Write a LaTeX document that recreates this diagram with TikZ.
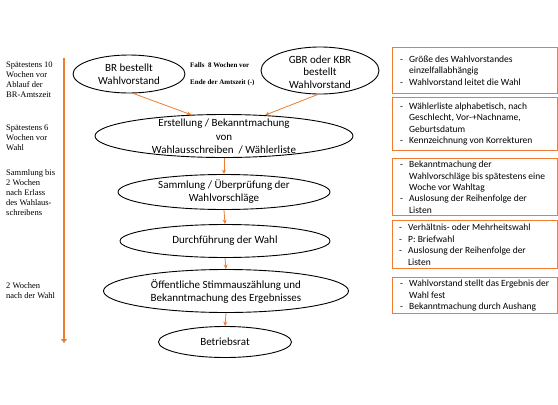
\documentclass[tikz,border=0pt]{standalone}
\usepackage{fontspec}
\setmainfont{Carlito}
\newfontfamily\sidefont{Liberation Serif}
\usetikzlibrary{shapes.geometric,arrows.meta}
\definecolor{orng}{RGB}{237,125,49}
\newcommand\dashitem{\makebox[9pt][l]{-}}
\newcommand\hangsp{\hspace*{9pt}}
\begin{document}
\begin{tikzpicture}[x=1pt,y=-1pt,
  ell/.style={ellipse,draw=black,line width=0.9pt,inner sep=0pt},
  etext/.style={align=center,font=\fontsize{11}{13}\selectfont,inner sep=0pt},
  infobox/.style={draw=orng,line width=1.4pt,anchor=north west,inner sep=0pt,minimum width=165pt},
  btext/.style={anchor=west,align=left,inner sep=0pt,font=\fontsize{9.5}{11.4}\selectfont},
  flow/.style={draw=orng,line width=0.8pt,-{Stealth[length=4.5pt,width=4pt]}},
  side/.style={anchor=north west,align=left,inner sep=0pt,font=\sidefont\fontsize{8.5}{10}\selectfont},
  note/.style={anchor=north west,align=left,inner sep=0pt,font=\sidefont\bfseries\fontsize{7}{17}\selectfont}
]
\useasboundingbox (0,0) rectangle (558,405);
\fill[white] (0,0) rectangle (558,405);

% timeline
\coordinate (ltop) at (64,58);
\coordinate (lbot) at (64,343);
\draw[orng,line width=2.8pt,-{Triangle[length=4pt,width=6pt]}] (ltop) -- (lbot);

% side texts
\node[side] (s1) at (6,62) {Spätestens 10\\Wochen vor\\Ablauf der\\BR-Amtszeit};
\node[side] (s2) at (6,125) {Spätestens 6\\Wochen vor\\Wahl};
\node[side] (s3) at (6,169) {Sammlung bis\\2 Wochen\\nach Erlass\\des Wahlaus-\\schreibens};
\node[side] (s4) at (6,282) {2 Wochen\\nach der Wahl};

% ellipses
\node[ell,minimum width=112pt,minimum height=38pt] (br) at (129,74) {};
\node[etext] (brt) at (br.center) {BR bestellt\\Wahlvorstand};
\node[ell,minimum width=118pt,minimum height=47pt] (gbr) at (320,70.5) {};
\node[etext,font=\fontsize{11}{12.5}\selectfont] (gbrt) at ([yshift=-1.5pt]gbr.center) {GBR oder KBR\\bestellt\\Wahlvorstand};
\node[note] (nt) at (190,62) {Falls\ \ 8 Wochen vor\\Ende der Amtszeit (-)};

\node[ell,minimum width=258pt,minimum height=43pt] (e2) at (224,136) {};
\node[etext,font=\fontsize{11}{13.5}\selectfont] (e2t) at ([yshift=-0.8pt]e2.center) {Erstellung / Bekanntmachung\\von\\Wahlausschreiben\ \ / Wählerliste};
\node[ell,minimum width=212pt,minimum height=35pt] (e3) at (224,192) {};
\node[etext] (e3t) at (e3.center) {Sammlung / Überprüfung der\\Wahlvorschläge};
\node[ell,minimum width=210pt,minimum height=33pt] (e4) at (225,241) {};
\node[etext] (e4t) at (e4.center) {Durchführung der Wahl};
\node[ell,minimum width=245pt,minimum height=43pt] (e5) at (226,291) {};
\node[etext] (e5t) at ([yshift=-0.5pt]e5.center) {Öffentliche Stimmauszählung und\\Bekanntmachung des Ergebnisses};
\node[ell,minimum width=133pt,minimum height=31pt] (e6) at (225,342) {};
\node[etext] (e6t) at (e6.center) {Betriebsrat};

% connectors
\draw[flow] (br.-78) -- (e2.147.6);
\draw[flow] (gbr.-95) -- (e2.27.8);
\draw[flow] (e2.south) -- (e3.north);
\draw[flow] (e3.south) -- (e4.north);
\draw[flow] (e4.south) -- (e5.north);
\draw[flow] (e5.south) -- (e6.north);

% info boxes
\node[infobox,minimum height=46pt] (b1) at (392,47) {};
\node[btext] (b1t) at ([xshift=8pt]b1.west) {\dashitem Größe des Wahlvorstandes\\\hangsp einzelfallabhängig\\\dashitem Wahlvorstand leitet die Wahl};
\node[infobox,minimum height=53pt] (b2) at (392,97) {};
\node[btext] (b2t) at ([xshift=8pt]b2.west) {\dashitem Wählerliste alphabetisch, nach\\\hangsp Geschlecht, Vor-+Nachname,\\\hangsp Geburtsdatum\\\dashitem Kennzeichnung von Korrekturen};
\node[infobox,minimum height=57pt] (b3) at (392,158) {};
\node[btext] (b3t) at ([xshift=8pt]b3.west) {\dashitem Bekanntmachung der\\\hangsp Wahlvorschläge bis spätestens eine\\\hangsp Woche vor Wahltag\\\dashitem Auslosung der Reihenfolge der\\\hangsp Listen};
\node[infobox,minimum height=48pt] (b4) at (392,220) {};
\node[btext] (b4t) at ([xshift=7pt]b4.west) {\dashitem Verhältnis- oder Mehrheitswahl\\\dashitem P: Briefwahl\\\dashitem Auslosung der Reihenfolge der\\\hangsp Listen};
\node[infobox,minimum height=36pt] (b5) at (392,277) {};
\node[btext] (b5t) at ([xshift=8pt]b5.west) {\dashitem Wahlvorstand stellt das Ergebnis der\\\hangsp Wahl fest\\\dashitem Bekanntmachung durch Aushang};
\end{tikzpicture}
\end{document}
